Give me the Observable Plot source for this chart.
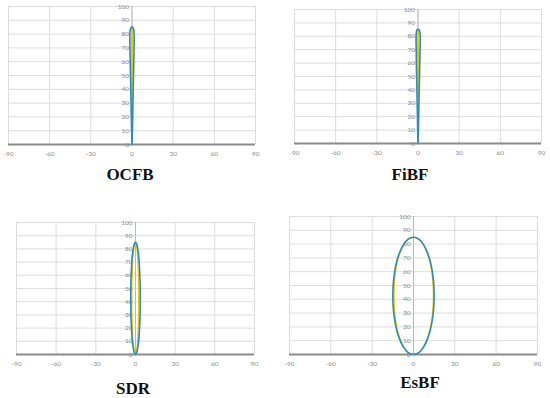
<!DOCTYPE html>
<html>
<head>
<meta charset="utf-8">
<script src="https://cdn.jsdelivr.net/npm/d3@7"></script>
<script src="https://cdn.jsdelivr.net/npm/@observablehq/plot@0.6"></script>
<style>
  html, body { margin: 0; padding: 0; background: #fff; }
  #root { position: relative; width: 550px; height: 398px; overflow: hidden; }
  .panel { position: absolute; }
  .title { position: absolute; transform: translate(-50%, -50%); font-family: "Liberation Serif", serif; font-weight: bold; font-size: 17px; color: #111; white-space: nowrap; }
</style>
</head>
<body>
<div id="root"></div>
<script>
// Tick values
const xTicks = [-90, -60, -30, 0, 30, 60, 90];
const yTicks = [0, 10, 20, 30, 40, 50, 60, 70, 80, 90, 100];
const panelTitles = ["OCFB", "FiBF", "SDR", "EsBF"];

// OCFB curves (x = angle, y = magnitude)
const ocfbTealX = [0, 0.3, 0.6, 0.9, 1.2, 1.5, 1.6, 1.3, 0.6, 0, -0.6, -1.3, -1.6, -1.5, -1.2, -0.9, -0.6, -0.3, 0];
const ocfbTealY = [0, 10, 25, 40, 55, 70, 78, 83, 85, 85.3, 85, 83, 78, 70, 55, 40, 25, 10, 0];
const ocfbYellowX = [0, 0.1, 0.2, 0.3, 0.4, 0.5, 0.5, 0.4, 0.2, 0, -0.2, -0.4, -0.5, -0.5, -0.4, -0.3, -0.2, -0.1, 0];
const ocfbYellowY = [0, 10, 25, 40, 55, 70, 78, 82, 84, 84.5, 84, 82, 78, 70, 55, 40, 25, 10, 0];

// FiBF curves
const fibfTealX = [0, 0.3, 0.6, 0.9, 1.2, 1.5, 1.7, 1.4, 0.7, 0, -0.6, -1.2, -1.4, -1.3, -1.1, -0.8, -0.5, -0.25, 0];
const fibfTealY = [0, 10, 25, 40, 55, 70, 78, 83, 85, 85.3, 85, 83, 78, 70, 55, 40, 25, 10, 0];
const fibfYellowX = [0, 0.1, 0.2, 0.3, 0.4, 0.45, 0.5, 0.4, 0.2, 0, -0.2, -0.4, -0.5, -0.45, -0.4, -0.3, -0.2, -0.1, 0];
const fibfYellowY = [0, 10, 25, 40, 55, 70, 78, 82, 84, 84.5, 84, 82, 78, 70, 55, 40, 25, 10, 0];

// SDR curves
const sdrTealX = [0, 0.9, 1.8, 2.6, 3.1, 3.5, 3.6, 3.5, 3.1, 2.6, 1.8, 0.9, 0, -0.9, -1.8, -2.6, -3.1, -3.5, -3.6, -3.5, -3.1, -2.6, -1.8, -0.9, 0];
const sdrTealY = [0, 1.4, 5.7, 12.4, 21.3, 31.5, 42.5, 53.5, 63.8, 72.6, 79.3, 83.6, 85, 83.6, 79.3, 72.6, 63.8, 53.5, 42.5, 31.5, 21.3, 12.4, 5.7, 1.4, 0];
const sdrYellowX = [0, 0.6, 1.2, 1.7, 2.1, 2.3, 2.4, 2.3, 2.1, 1.7, 1.2, 0.6, 0, -0.7, -1.4, -2.0, -2.4, -2.7, -2.8, -2.7, -2.4, -2.0, -1.4, -0.7, 0];
const sdrYellowY = [0, 1.4, 5.7, 12.4, 21.3, 31.5, 42.5, 53.5, 63.8, 72.6, 79.3, 83.6, 85, 83.6, 79.3, 72.6, 63.8, 53.5, 42.5, 31.5, 21.3, 12.4, 5.7, 1.4, 0];

// EsBF curves
const esbfTealX = [0, 3.9, 7.5, 10.6, 13.0, 14.5, 15.0, 14.5, 13.0, 10.6, 7.5, 3.9, 0, -3.9, -7.5, -10.6, -13.0, -14.5, -15.0, -14.5, -13.0, -10.6, -7.5, -3.9, 0];
const esbfTealY = [0, 1.4, 5.7, 12.4, 21.3, 31.5, 42.5, 53.5, 63.8, 72.6, 79.3, 83.6, 85, 83.6, 79.3, 72.6, 63.8, 53.5, 42.5, 31.5, 21.3, 12.4, 5.7, 1.4, 0];
const esbfYellowX = [0, 3.8, 7.3, 10.3, 12.6, 14.0, 14.4, 14.0, 12.6, 10.3, 7.3, 3.8, 0, -3.7, -7.1, -10.1, -12.4, -13.8, -14.1, -13.8, -12.4, -10.1, -7.1, -3.7, 0];
const esbfYellowY = [0, 1.4, 5.7, 12.4, 21.3, 31.5, 42.5, 53.5, 63.8, 72.6, 79.3, 83.6, 85, 83.6, 79.3, 72.6, 63.8, 53.5, 42.5, 31.5, 21.3, 12.4, 5.7, 1.4, 0];

const TEAL = "#2f8cb5";
const YELLOW = "#f2c40c";

function pts(xs, ys) { return xs.map((x, i) => ({x, y: ys[i]})); }

function panel(cfg) {
  const teal = pts(cfg.tx, cfg.ty);
  const yellow = pts(cfg.yx, cfg.yy);
  const chart = Plot.plot({
    width: cfg.w, height: cfg.h,
    marginLeft: cfg.mL, marginRight: cfg.mR, marginTop: cfg.mT, marginBottom: cfg.mB,
    x: {domain: [-90, 90], axis: null},
    y: {domain: [0, 100], axis: null},
    style: {background: "transparent", overflow: "visible"},
    marks: [
      Plot.gridX(xTicks, {stroke: "#dcdcdc", strokeOpacity: 1, strokeWidth: 1}),
      Plot.gridY(yTicks, {stroke: "#dcdcdc", strokeOpacity: 1, strokeWidth: 1}),
      Plot.ruleX([0], {stroke: "#b8b8b8", strokeWidth: 1}),
      Plot.ruleY([0], {stroke: "#8a8a8a", strokeWidth: 2}),
      Plot.text(yTicks, {x: 0, y: d => d, text: d => String(d), dx: -3, textAnchor: "end", fontSize: 6.5, fill: "#8c8c8c", fontFamily: "Lato, sans-serif"}),
      Plot.text(xTicks, {x: d => d, y: 0, text: d => String(d), dy: 9, fontSize: 6.5, fill: "#8c8c8c", fontFamily: "Lato, sans-serif"}),
      Plot.line(yellow, {x: "x", y: "y", stroke: YELLOW, strokeWidth: 1.3, curve: "catmull-rom"}),
      Plot.line(teal, {x: "x", y: "y", stroke: TEAL, strokeWidth: 1.6, curve: "catmull-rom"})
    ]
  });
  chart.classList.add("panel");
  chart.style.left = cfg.left + "px";
  chart.style.top = cfg.top + "px";
  const root = document.getElementById("root");
  root.appendChild(chart);
  const t = document.createElement("div");
  t.className = "title";
  t.textContent = cfg.title;
  t.style.left = cfg.titleX + "px";
  t.style.top = cfg.titleY + "px";
  root.appendChild(t);
}

panel({left: 0, top: 0, w: 270, h: 160, mL: 8, mR: 15, mT: 6, mB: 16,
  tx: ocfbTealX, ty: ocfbTealY, yx: ocfbYellowX, yy: ocfbYellowY, title: panelTitles[0], titleX: 130, titleY: 175});
panel({left: 280, top: 0, w: 270, h: 160, mL: 14, mR: 9, mT: 9, mB: 17,
  tx: fibfTealX, ty: fibfTealY, yx: fibfYellowX, yy: fibfYellowY, title: panelTitles[1], titleX: 410, titleY: 175});
panel({left: 0, top: 210, w: 270, h: 160, mL: 16, mR: 16, mT: 12, mB: 16,
  tx: sdrTealX, ty: sdrTealY, yx: sdrYellowX, yy: sdrYellowY, title: panelTitles[2], titleX: 133, titleY: 389});
panel({left: 275, top: 205, w: 275, h: 165, mL: 14, mR: 13, mT: 11, mB: 16,
  tx: esbfTealX, ty: esbfTealY, yx: esbfYellowX, yy: esbfYellowY, title: panelTitles[3], titleX: 420, titleY: 383});
</script>
</body>
</html>
